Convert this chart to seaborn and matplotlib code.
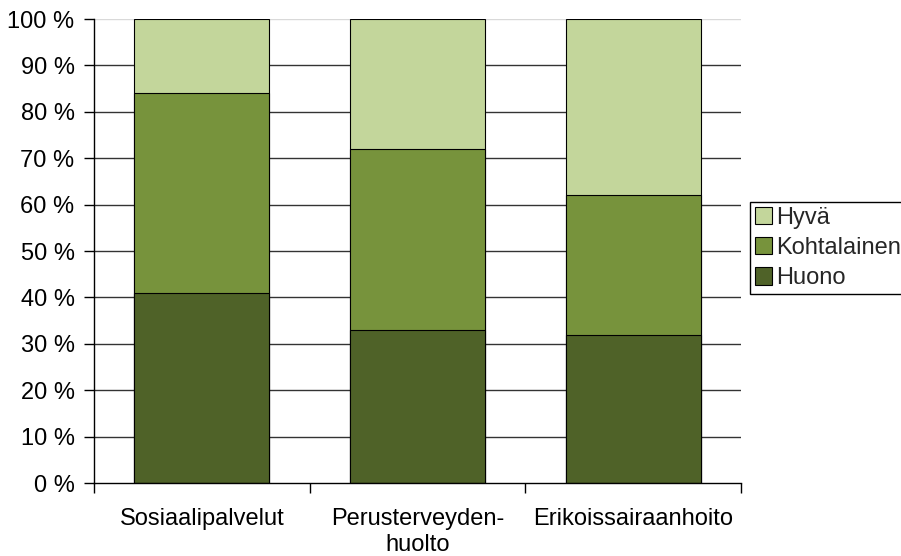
import matplotlib
matplotlib.use("Agg")
import matplotlib.pyplot as plt
import matplotlib.patches as mpatches
import seaborn as sns
import pandas as pd
import numpy as np

categories = ["Sosiaalipalvelut", "Perusterveyden-\nhuolto", "Erikoissairaanhoito"]
huono = [41, 33, 32]
kohtalainen = [43, 39, 30]
hyva = [16, 28, 38]
series_names = ["Hyvä", "Kohtalainen", "Huono"]
colors = {"Huono": "#4f6228", "Kohtalainen": "#77933c", "Hyvä": "#c3d69b"}
y_ticks = list(range(0, 101, 10))

sns.set_theme(style="white")
plt.rcParams["font.family"] = ["Liberation Sans", "DejaVu Sans"]
FS = 17

df = pd.DataFrame({"kategoria": categories, "Huono": huono,
                   "Kohtalainen": kohtalainen, "Hyvä": hyva})
# cumulative tops for stacking: draw tallest first, then overlay lower parts
df["top_Huono"] = df["Huono"]
df["top_Kohtalainen"] = df["Huono"] + df["Kohtalainen"]
df["top_Hyvä"] = df["top_Kohtalainen"] + df["Hyvä"]

fig = plt.figure(figsize=(9.01, 5.56), dpi=100)
ax = fig.add_axes([94 / 901, 1 - 483 / 556, (741 - 94) / 901, (483 - 19) / 556])

for name in series_names:
    sns.barplot(data=df, x="kategoria", y=f"top_{name}", color=colors[name],
                width=0.626, edgecolor="black", linewidth=0.8, saturation=1,
                ax=ax, zorder=3)

ax.set_xlim(-0.5, 2.5)
ax.set_ylim(0, 100)
ax.set_yticks(y_ticks)
ax.set_yticklabels([f"{v} %" for v in y_ticks])
ax.set_xlabel("")
ax.set_ylabel("")

# horizontal gridlines
for v in y_ticks[1:]:
    ax.axhline(v, color="#d9d9d9" if v == 100 else "#333333", linewidth=1, zorder=1)

for s in ["top", "right"]:
    ax.spines[s].set_visible(False)
for s in ["left", "bottom"]:
    ax.spines[s].set_color("black")
    ax.spines[s].set_linewidth(1)
    ax.spines[s].set_zorder(4)

ax.tick_params(axis="y", which="major", left=True, length=7, width=1,
               color="black", pad=7, labelsize=FS, labelcolor="black")
ax.set_xticks(np.arange(len(categories)))
ax.set_xticks([-0.5, 0.5, 1.5, 2.5], minor=True)
ax.tick_params(axis="x", which="major", length=0, pad=18, labelsize=FS,
               labelcolor="black")
ax.tick_params(axis="x", which="minor", bottom=True, length=7, width=1,
               color="black")
for lbl in ax.get_xticklabels():
    lbl.set_linespacing(1.25)

handles = [mpatches.Patch(facecolor=colors[n], edgecolor="black", linewidth=0.8,
                          label=n) for n in series_names]
fig.legend(handles=handles, loc="upper left",
           bbox_to_anchor=(750 / 901, 1 - 202 / 556), fontsize=FS,
           frameon=True, fancybox=False, edgecolor="black", framealpha=1,
           handlelength=0.75, handleheight=0.75, handletextpad=0.15,
           borderpad=0.2, labelspacing=0.35, borderaxespad=0)

fig.savefig("out.png", dpi=100)
